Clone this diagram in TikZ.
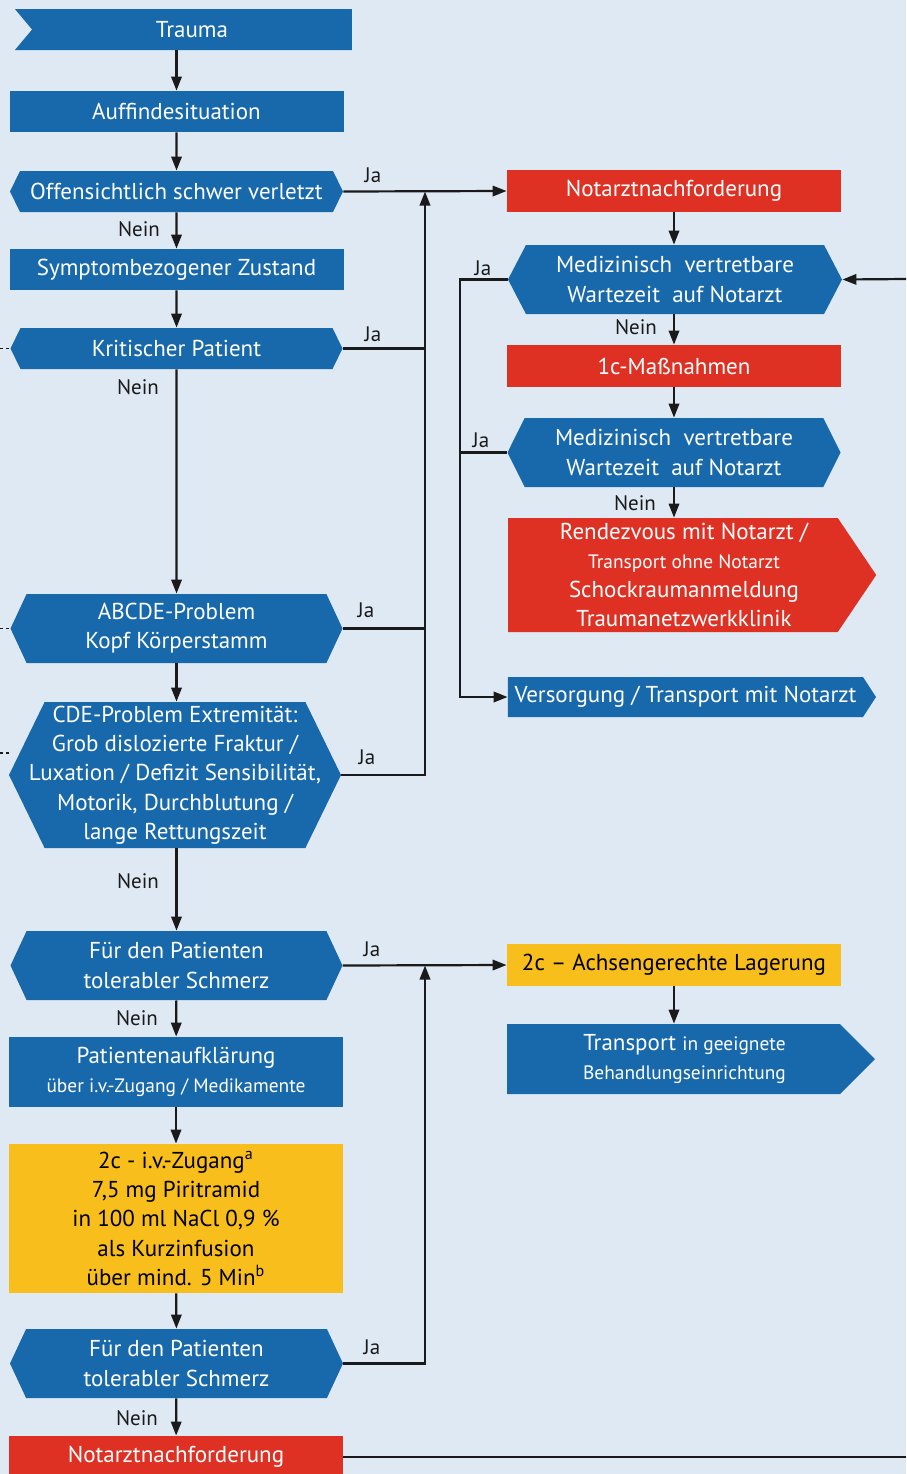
\documentclass[tikz,border=0pt]{standalone}
\usepackage{fontspec}
\setmainfont{PT Sans}
\usetikzlibrary{shapes.symbols,arrows.meta}
\definecolor{bgblue}{HTML}{DFE9F4}
\definecolor{fblue}{HTML}{1868AC}
\definecolor{fred}{HTML}{DE3124}
\definecolor{fyellow}{HTML}{F8BE1B}
\definecolor{fline}{HTML}{1A1A1A}
\newcommand\klein[1]{{\fontsize{9.7}{11}\selectfont #1}}
\newcommand\rechts{\hspace*{11pt}}
\tikzset{
  flowbox/.style={rectangle, inner sep=0pt, align=center, text=white,
    font=\fontsize{11.5}{14.6}\selectfont},
  bluebox/.style={flowbox, fill=fblue},
  redbox/.style={flowbox, fill=fred},
  yellowbox/.style={flowbox, fill=fyellow, text=black},
  hexa/.style={signal, signal from=nowhere, signal to=west and east},
  pointer/.style={signal, signal from=nowhere, signal to=east},
  lbl/.style={font=\fontsize{10.5}{12}\selectfont, text=fline, inner sep=0pt},
  arr/.style={-{Triangle[length=7pt,width=5.2pt]}, line width=1.1pt, draw=fline},
  ln/.style={line width=1.1pt, draw=fline},
  dashline/.style={line width=0.6pt, draw=fline, dash pattern=on 1.5pt off 1.5pt}
}
\begin{document}
\begin{tikzpicture}[x=0.5pt,y=-0.5pt]
  \useasboundingbox (0,0) rectangle (906,1474);
  \fill[bgblue] (0,0) rectangle (906,1474);

  % linke Spalte
  \node[bluebox, signal, signal to=nowhere, signal from=west, signal pointer angle=100,
    minimum width=168.5pt, minimum height=20.5pt] (trauma) at (192,29.5) {Trauma};
  \node[bluebox, minimum width=167pt, minimum height=20.5pt] (auff) at (176.5,111.5) {Auffindesituation};
  \node[bluebox, hexa, signal pointer angle=128, minimum width=166.5pt, minimum height=20.5pt]
    (offen) at (176.5,191.5) {Offensichtlich schwer verletzt};
  \node[bluebox, minimum width=167pt, minimum height=20.5pt] (sympt) at (176.5,269.5) {Symptombezogener Zustand};
  \node[bluebox, hexa, signal pointer angle=128, minimum width=166pt, minimum height=20.5pt]
    (krit) at (176.5,348.5) {Kritischer Patient};
  \node[bluebox, hexa, signal pointer angle=130, minimum width=166pt, minimum height=34.5pt]
    (abcde) at (176.5,628.5) {ABCDE-Problem\\Kopf Körperstamm};
  \node[bluebox, hexa, signal pointer angle=128, minimum width=166pt, minimum height=73pt]
    (cde) at (175,775) {\makebox[110pt]{\begin{tabular}{@{}c@{}}CDE-Problem Extremität:\\Grob dislozierte Fraktur /\\Luxation / Defizit Sensibilität,\\Motorik, Durchblutung /\\lange Rettungszeit\end{tabular}}};
  \node[bluebox, hexa, signal pointer angle=130, minimum width=166pt, minimum height=34.5pt]
    (fuer1) at (176.5,965.5) {Für den Patienten\\tolerabler Schmerz};
  \node[bluebox, minimum width=167pt, minimum height=35pt] (aufkl) at (176,1072)
    {Patientenaufklärung\\\klein{über i.v.-Zugang / Medikamente}};
  \node[yellowbox, minimum width=167pt, minimum height=74.5pt] (zugang) at (176,1218.5)
    {2c - i.v.-Zugang\textsuperscript{a}\\7,5 mg Piritramid\\in 100 ml NaCl 0,9 \%\\als Kurzinfusion\\über mind. 5 Min\textsuperscript{b}};
  \node[bluebox, hexa, signal pointer angle=130, minimum width=166.5pt, minimum height=34.5pt]
    (fuer2) at (176.5,1363.5) {Für den Patienten\\tolerabler Schmerz};
  \node[redbox, minimum width=167pt, minimum height=21pt] (nabot) at (176,1457) {Notarztnachforderung};

  % rechte Spalte
  \node[redbox, minimum width=167pt, minimum height=21pt] (natop) at (674,191) {Notarztnachforderung};
  \node[bluebox, hexa, signal pointer angle=125, minimum width=167pt, minimum height=34.5pt]
    (med1) at (675,279.5) {Medizinisch\ \ vertretbare\\Wartezeit\ \ auf Notarzt};
  \node[redbox, minimum width=167pt, minimum height=21pt] (mass) at (674,366) {1c-Maßnahmen};
  \node[bluebox, hexa, signal pointer angle=127, minimum width=166.5pt, minimum height=34.5pt]
    (med2) at (674,452.5) {Medizinisch\ \ vertretbare\\Wartezeit\ \ auf Notarzt};
  \node[redbox, pointer, signal pointer angle=112, minimum width=184pt, minimum height=57pt]
    (rendez) at (673,575) {\rechts Rendezvous mit Notarzt /\\\rechts\klein{Transport ohne Notarzt}\\\rechts Schockraumanmeldung\\\rechts Traumanetzwerkklinik};
  \node[bluebox, pointer, signal pointer angle=114, minimum width=184pt, minimum height=20pt]
    (versorg) at (685.5,697) {Versorgung / Transport mit Notarzt};
  \node[yellowbox, minimum width=167pt, minimum height=21pt] (lager) at (674,965) {2c – Achsengerechte Lagerung};
  \node[bluebox, pointer, signal pointer angle=90, minimum width=184pt, minimum height=35pt]
    (transp) at (673.5,1059) {\rechts Transport \klein{in geeignete}\\\rechts\klein{Behandlungseinrichtung}};

  % Ja / Nein
  \node[lbl] (ja1) at (373,175) {Ja};
  \node[lbl] (nein1) at (139,229) {Nein};
  \node[lbl] (ja2) at (373,334) {Ja};
  \node[lbl] (nein2) at (138,387) {Nein};
  \node[lbl] (ja3) at (366,610) {Ja};
  \node[lbl] (ja4) at (367,757) {Ja};
  \node[lbl] (nein3) at (138,881) {Nein};
  \node[lbl] (ja5) at (372,949) {Ja};
  \node[lbl] (nein4) at (137,1018) {Nein};
  \node[lbl] (ja6) at (372,1347) {Ja};
  \node[lbl] (nein5) at (137,1418) {Nein};
  \node[lbl] (ja7) at (483,268) {Ja};
  \node[lbl] (nein6) at (636,327) {Nein};
  \node[lbl] (ja8) at (481,440) {Ja};
  \node[lbl] (nein7) at (635,503) {Nein};

  \coordinate (trunk) at (425,0);
  \coordinate (rtrunk) at (460,0);
  \coordinate (ledge) at (0,0);
  \coordinate (cdel) at (0,753);
  \coordinate (redge) at (906,279);
  \coordinate (bedge) at (906,1457);

  % senkrechte Pfeile
  \draw[arr] (auff.north |- trauma.south) -- (auff.north);
  \draw[arr] (auff) -- (offen);
  \draw[arr] (offen) -- (sympt);
  \draw[arr] (sympt) -- (krit);
  \draw[arr] (krit) -- (abcde);
  \draw[arr] (abcde.south) -- (abcde.south |- cde.north);
  \draw[arr] (cde.south -| fuer1.north) -- (fuer1.north);
  \draw[arr] (fuer1) -- (aufkl);
  \draw[arr] (aufkl) -- (zugang);
  \draw[arr] (zugang) -- (fuer2);
  \draw[arr] (fuer2) -- (nabot);
  \draw[arr] (natop) -- (med1.north -| natop.south);
  \draw[arr] (med1.south -| natop.south) -- (mass.north -| natop.south);
  \draw[arr] (mass) -- (med2.north -| mass.south);
  \draw[arr] (med2.south) -- (med2.south |- rendez.north);
  \draw[arr] (lager) -- (lager.south |- transp.north);

  % Ja-Zweige
  \draw[arr] (offen.east) -- (natop.west);
  \draw[ln] (krit.east) -- (krit.east -| trunk);
  \draw[ln] (abcde.east) -- (abcde.east -| trunk);
  \draw[arr] (cde.east) -| (trunk |- offen.east);
  \draw[arr] (fuer1.east) -- (lager.west);
  \draw[arr] (fuer2.east) -| (trunk |- fuer1.east);
  \draw[arr] (med1.west) -| (rtrunk |- versorg.west) -- (versorg.west);
  \draw[ln] (med2.west) -- (med2.west -| rtrunk);
  \draw[arr] (redge) -- (med1.east);
  \draw[ln] (nabot.east) -- (bedge);

  % gestrichelt nach links
  \draw[dashline] (ledge |- krit.west) -- (krit.west);
  \draw[dashline] (ledge |- abcde.west) -- (abcde.west);
  \draw[dashline] (cdel) -- (cdel -| cde.west);
\end{tikzpicture}
\end{document}
